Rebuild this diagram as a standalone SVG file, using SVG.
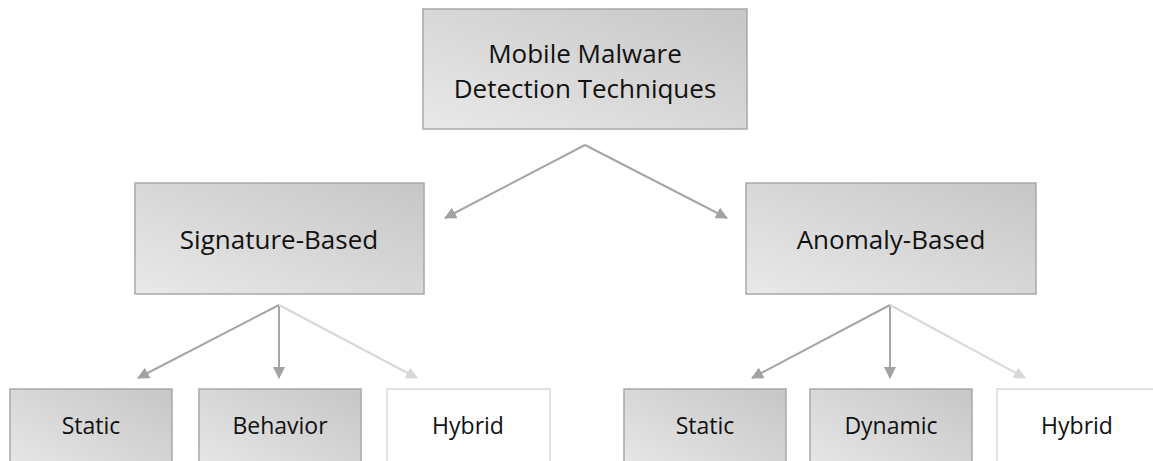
<svg xmlns="http://www.w3.org/2000/svg" width="1153" height="461" viewBox="0 0 1153 461">
<defs>
<linearGradient id="g" x1="1" y1="0" x2="0" y2="1">
<stop offset="0" stop-color="#c6c6c6"/>
<stop offset="1" stop-color="#e9e9e9"/>
</linearGradient>
<marker id="ah" viewBox="0 0 12 12" refX="11" refY="6" markerWidth="12" markerHeight="12" markerUnits="userSpaceOnUse" orient="auto">
<path d="M0,0 L12,6 L0,12 Z" fill="#a2a2a2"/>
</marker>
<marker id="ahl" viewBox="0 0 12 12" refX="11" refY="6" markerWidth="12" markerHeight="12" markerUnits="userSpaceOnUse" orient="auto">
<path d="M0,0 L12,6 L0,12 Z" fill="#d8d8d8"/>
</marker>
</defs>
<style>
.box{fill:url(#g);stroke:#a8a8a8;stroke-width:1.5}
.wbox{fill:#ffffff;stroke:#d8d8d8;stroke-width:1.5}
.t{font-family:"Open Sans","Liberation Sans",sans-serif;fill:#111111;text-anchor:middle}
.big{font-size:26px}
.sm{font-size:23px}
.c{fill:none;stroke:#a6a6a6;stroke-width:2;marker-end:url(#ah)}
.cl{fill:none;stroke:#d8d8d8;stroke-width:2;marker-end:url(#ahl)}
</style>
<rect width="1153" height="461" fill="#ffffff"/>
<g id="connectors">
<line class="c" x1="585" y1="145" x2="445" y2="218"/>
<line class="c" x1="585" y1="145" x2="727" y2="218"/>
<line class="c" x1="279" y1="305" x2="138" y2="378"/>
<line class="c" x1="279" y1="305" x2="279" y2="378"/>
<line class="cl" x1="279" y1="305" x2="417" y2="378"/>
<line class="c" x1="890" y1="305" x2="752" y2="378"/>
<line class="c" x1="890" y1="305" x2="890" y2="378"/>
<line class="cl" x1="890" y1="305" x2="1025" y2="378"/>
</g>
<g id="root">
<rect class="box" x="423" y="9" width="324" height="120"/>
<text class="t big" x="585" y="63">Mobile Malware</text>
<text class="t big" x="585" y="98">Detection Techniques</text>
</g>
<g id="signature">
<rect class="box" x="135" y="183" width="289" height="111"/>
<text class="t big" x="279" y="249">Signature-Based</text>
</g>
<g id="anomaly">
<rect class="box" x="746" y="183" width="290" height="111"/>
<text class="t big" x="891" y="249">Anomaly-Based</text>
</g>
<g id="sig-static">
<rect class="box" x="10" y="389" width="162" height="90"/>
<text class="t sm" x="91" y="434">Static</text>
</g>
<g id="sig-behavior">
<rect class="box" x="199" y="389" width="162" height="90"/>
<text class="t sm" x="280" y="434">Behavior</text>
</g>
<g id="sig-hybrid">
<rect class="wbox" x="387" y="389" width="163" height="90"/>
<text class="t sm" x="468" y="434">Hybrid</text>
</g>
<g id="ano-static">
<rect class="box" x="624" y="389" width="162" height="90"/>
<text class="t sm" x="705" y="434">Static</text>
</g>
<g id="ano-dynamic">
<rect class="box" x="810" y="389" width="162" height="90"/>
<text class="t sm" x="891" y="434">Dynamic</text>
</g>
<g id="ano-hybrid">
<rect class="wbox" x="997" y="389" width="163" height="90"/>
<text class="t sm" x="1077" y="434">Hybrid</text>
</g>
</svg>
